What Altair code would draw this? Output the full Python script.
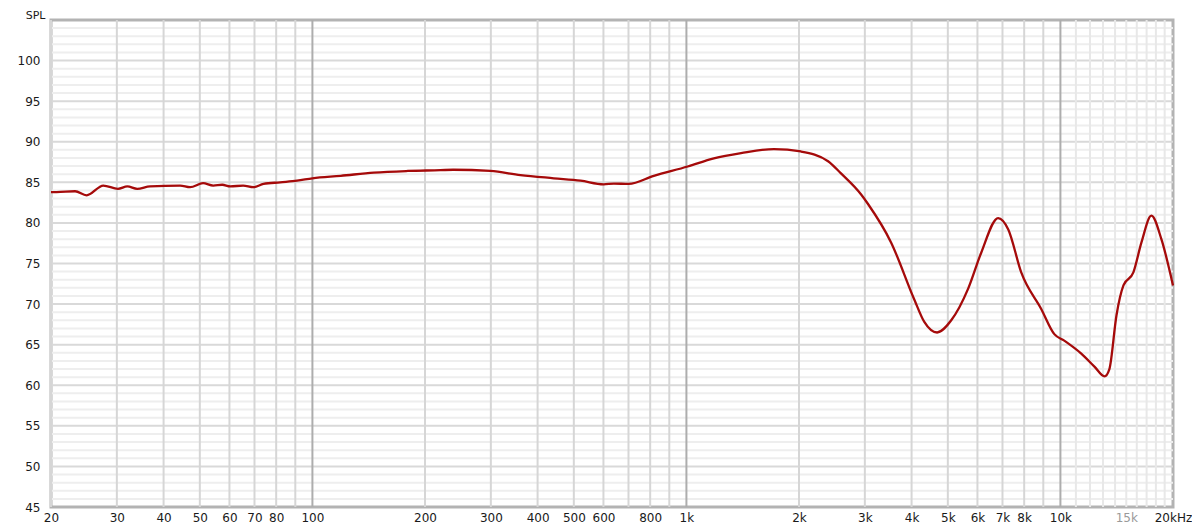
import altair as alt
import pandas as pd

# Frequency response data (Hz, dB SPL)
freq = [20, 20.7, 23.2, 24.9, 27.6, 30.2, 32, 34, 36.8, 44.3, 47.1, 51, 54.3, 57.4,
        60.3, 65.3, 69.5, 74, 82, 91, 100, 119, 146, 180, 220, 238, 299, 360, 442,
        521, 601, 640, 701, 818, 1008, 1184, 1400, 1714, 2023, 2392, 2590, 2932,
        3062, 3525, 4064, 4326, 4680, 5106, 5667, 6138, 6815, 7254, 7857, 8886,
        9632, 10240, 11370, 12330, 13120, 13520, 14120, 14740, 15670, 16470, 17510,
        18620, 20000]
spl = [83.8, 83.8, 83.9, 83.4, 84.6, 84.2, 84.5, 84.2, 84.5, 84.6, 84.4, 84.9, 84.6, 84.7,
       84.5, 84.6, 84.4, 84.8, 85.0, 85.2, 85.5, 85.8, 86.2, 86.4, 86.5, 86.55, 86.4, 85.9, 85.5,
       85.2, 84.75, 84.85, 84.8, 85.8, 86.95, 87.95, 88.6, 89.1, 88.8, 87.6, 86.1, 83.5,
       82.3, 77.6, 70.6, 67.8, 66.5, 68.0, 71.9, 76.3, 80.6, 79.2, 73.9, 69.4,
       66.3, 65.5, 63.9, 62.3, 61.1, 62.0, 68.6, 72.3, 73.9, 77.6, 80.9,
       78.0, 72.3]

# Axis ticks / grid
x_tick_values = [20, 30, 40, 50, 60, 70, 80, 100, 200, 300, 400, 500, 600, 800,
                 1000, 2000, 3000, 4000, 5000, 6000, 7000, 8000, 10000, 15000, 20000]
x_tick_labels = ["20", "30", "40", "50", "60", "70", "80", "100", "200", "300", "400",
                 "500", "600", "800", "1k", "2k", "3k", "4k", "5k", "6k", "7k", "8k",
                 "10k", "15k", "20kHz"]
grid_std = [20, 30, 40, 50, 60, 70, 80, 90, 200, 300, 400, 500, 600, 700, 800, 900,
            2000, 3000, 4000, 5000, 6000, 7000, 8000, 9000]
grid_decade = [100, 1000, 10000]
grid_fine = [11000, 12000, 13000, 14000, 15000, 16000, 17000, 18000, 19000]
y_minor = [v for v in range(46, 105) if v % 5 != 0]
y_major = [50, 55, 60, 65, 70, 75, 80, 85, 90, 95, 100]
y_labels = [45, 50, 55, 60, 65, 70, 75, 80, 85, 90, 95, 100]

df = pd.DataFrame({"f": freq, "spl": spl})

W, H = 1122, 487
xs = alt.Scale(type="log", domain=[20, 20000], nice=False)
ys = alt.Scale(domain=[45, 105], nice=False, zero=False)

label_map = "{" + ",".join(f"'{v}':'{l}'" for v, l in zip(x_tick_values, x_tick_labels)) + "}"

x_axis = alt.Axis(values=x_tick_values, labelExpr=f"{label_map}[datum.value]",
                  title=None, grid=False, ticks=False, domain=False,
                  labelFont="DejaVu Sans", labelFontSize=12, labelPadding=5,
                  labelColor={"condition": {"test": "datum.value == 15000", "value": "#9a9a9a"},
                              "value": "#1a1a1a"},
                  labelOverlap=False, labelFlush=False)
y_axis = alt.Axis(values=y_labels, title="SPL", titleAngle=0, titleX=-6, titleY=-2,
                  titleAlign="right", titleBaseline="alphabetic",
                  titleFont="DejaVu Sans", titleFontSize=11, titleFontWeight="normal",
                  titleColor="#1a1a1a",
                  grid=False, ticks=False, domain=False,
                  labelFont="DejaVu Sans", labelFontSize=12, labelPadding=11,
                  labelColor="#1a1a1a", labelOverlap=False, labelFlush=False)

def vrules(vals, color):
    return alt.Chart(pd.DataFrame({"f": vals})).mark_rule(color=color, strokeWidth=2).encode(
        x=alt.X("f:Q", scale=xs, axis=x_axis))

def hrules(vals, color):
    return alt.Chart(pd.DataFrame({"spl": vals})).mark_rule(color=color, strokeWidth=2).encode(
        y=alt.Y("spl:Q", scale=ys, axis=y_axis))

h_minor = hrules(y_minor, "#eeeeee")
h_major = hrules(y_major, "#d9d9d9")
v_fine = vrules(grid_fine, "#e8e8e8")
v_std = vrules(grid_std, "#d6d6d6")
v_dec = vrules(grid_decade, "#adadad")

line = alt.Chart(df).mark_line(color="#a50a0a", strokeWidth=2.3, interpolate="monotone").encode(
    x=alt.X("f:Q", scale=xs, axis=x_axis),
    y=alt.Y("spl:Q", scale=ys, axis=y_axis),
)

chart = alt.layer(h_minor, h_major, v_fine, v_std, v_dec, line).properties(
    width=W, height=H,
    background="white",
    autosize=alt.AutoSizeParams(type="none"),
    padding={"left": 43, "top": 12, "right": 19, "bottom": 16},
).configure_view(stroke="#b3b3b3", strokeWidth=3)

chart.save("out.html", embed_options={"renderer": "svg", "actions": False})
